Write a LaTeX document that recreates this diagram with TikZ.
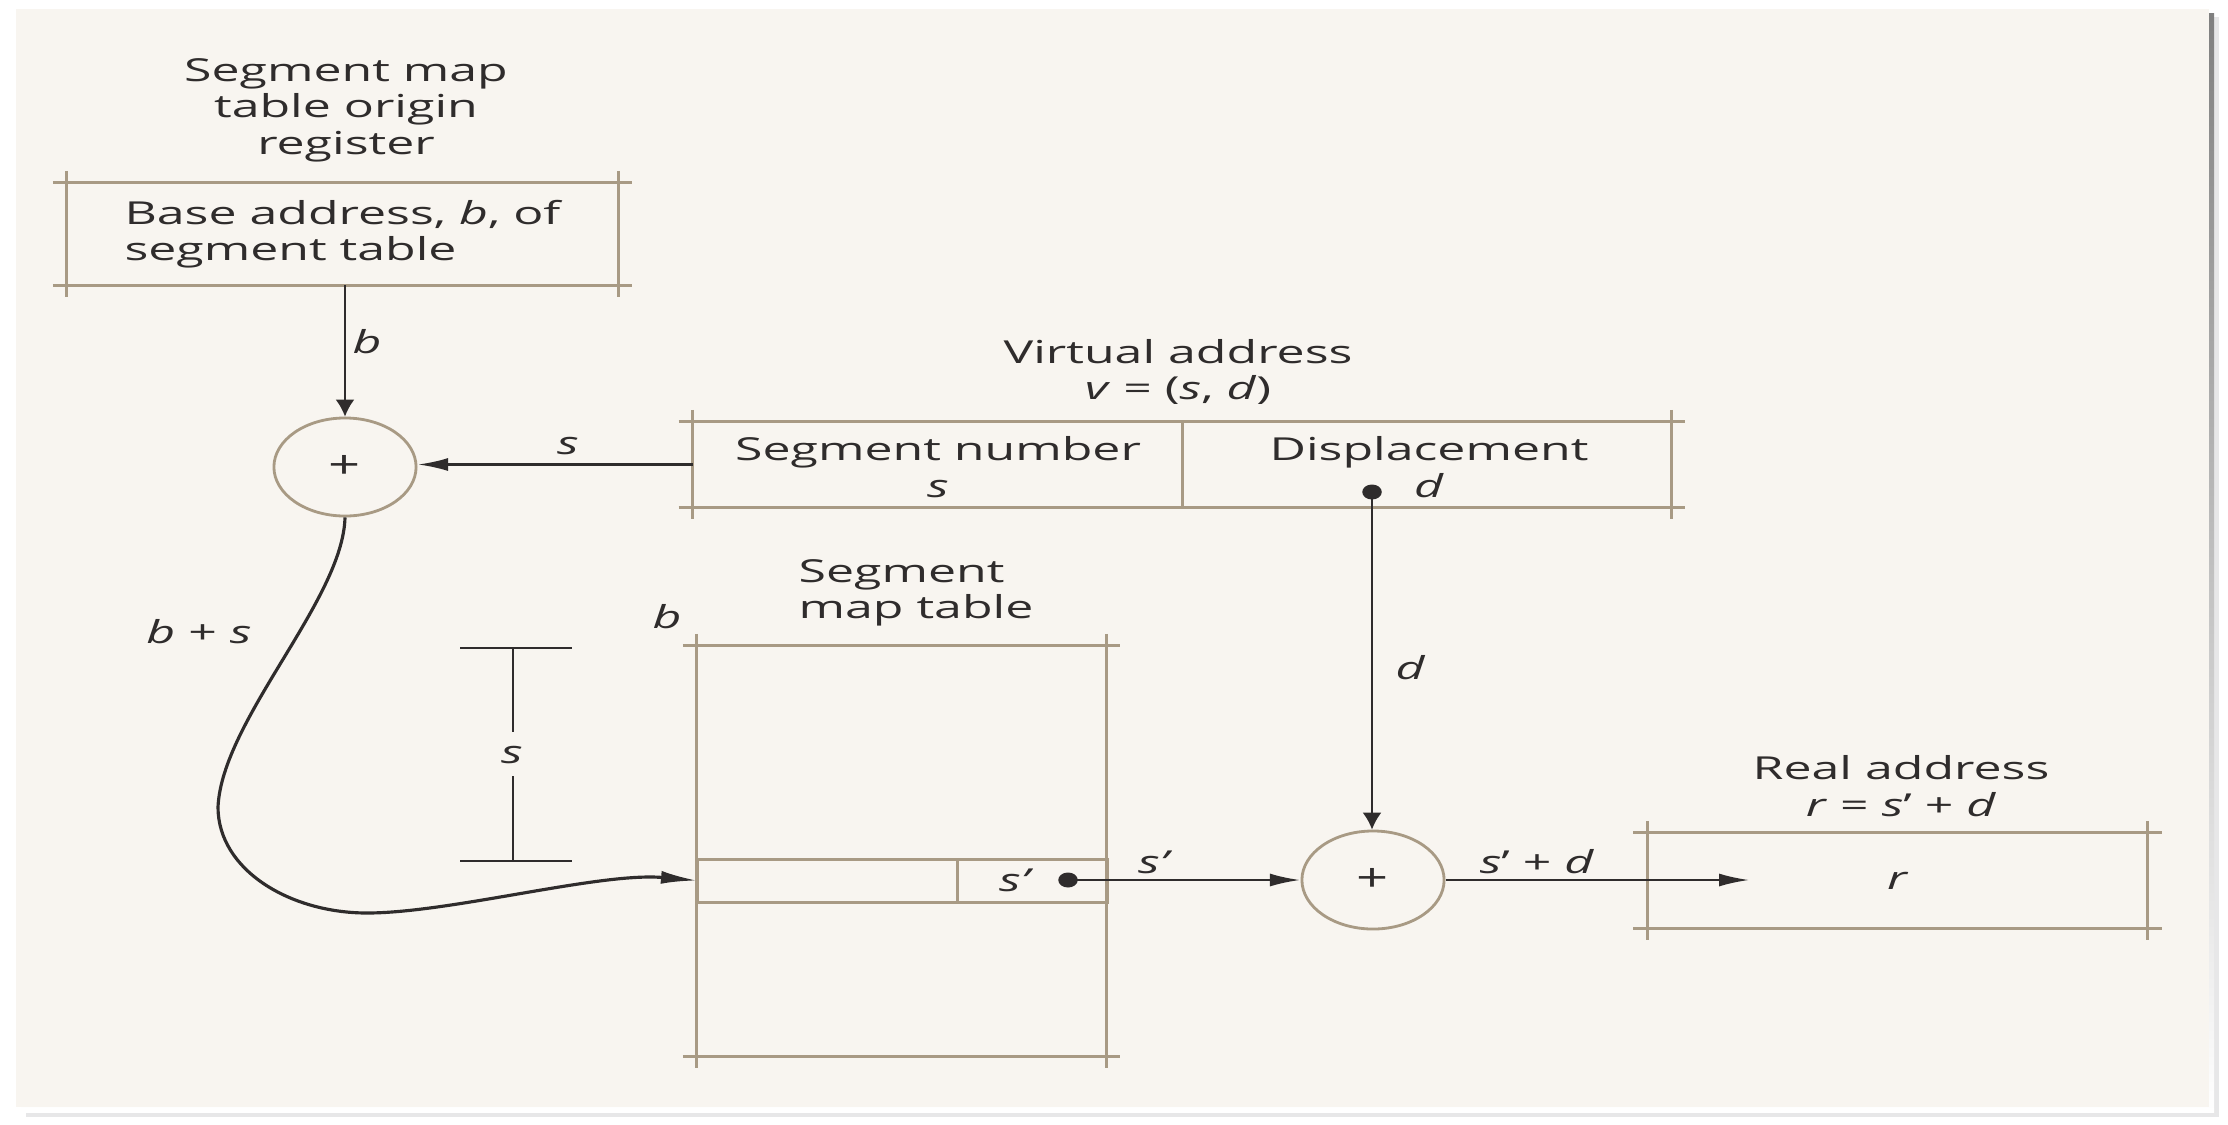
\documentclass[tikz,border=0pt]{standalone}
\usepackage{fontspec}
\setmainfont{Open Sans}
\usetikzlibrary{arrows.meta,positioning}
\definecolor{paper}{HTML}{F8F5F0}
\definecolor{frame}{HTML}{A89A84}
\definecolor{ink}{HTML}{2F2C2C}
\definecolor{shade}{HTML}{D6D6D9}
\tikzset{
  lbl/.style={font=\fontsize{9}{10.4}\selectfont, text=ink, xscale=1.58, inner sep=0pt, align=center},
  itvar/.style={lbl, font=\fontsize{9}{10.4}\selectfont\itshape},
  plainbox/.style={rectangle, inner sep=0pt, outer sep=0pt},
  adder/.style={circle, xscale=1.45, draw=frame, line width=0.8pt, minimum size=0.98cm,
    inner sep=0pt, font=\fontsize{11}{12}\selectfont, text=ink},
  frameline/.style={draw=frame, line width=0.85pt},
  harr/.style={-{Latex[length=0.3cm,width=0.13cm]}, draw=ink, line width=0.6pt},
  varr/.style={-{Latex[length=0.17cm,width=0.19cm]}, draw=ink, line width=0.6pt},
  dot/.style={circle, xscale=1.3, fill=ink, minimum size=0.15cm, inner sep=0pt},
}
\begin{document}
\begin{tikzpicture}[x=0.01cm, y=-0.01cm]

  % the sheet and its shadow
  \useasboundingbox[fill=white] (0,0) rectangle (2228,1124);
  \fill[shade!60] (26,17) rectangle (2219,1117);
  \fill[shade] (21,13) rectangle (2214,1112);
  \fill[paper] (16,9) rectangle (2209,1107);

  % the origin register, top left
  \node[lbl] (regtitle) at (346,110) {Segment map\\table origin\\register};
  \node[plainbox, minimum width=5.51cm, minimum height=1.02cm] (reg) at (342.5,234) {};
  \node[lbl, align=left] (regtext) at (reg) {Base address, \textit{b}, of\\segment table};

  % the two adders
  \node[adder] (add1) at (345,467) {+};
  \node[adder] (add2) at (1373,880) {+};

  % the virtual address
  \node[lbl] (vatitle) at (1178,372) {Virtual address\\\textit{v} = (\textit{s}, \textit{d})};
  \node[plainbox, minimum width=9.78cm, minimum height=0.85cm] (va) at (1182,464.5) {};
  \node[lbl] (segnum) at (938,467) {Segment number\\\textit{s}};
  \node[lbl] (displ) at (1429,467) {Displacement\\\textit{d}};
  \node[dot] (ddot) at (1372,492) {};

  % the segment map table
  \node[lbl, align=left] (smttitle) at (916,593) {Segment\\map table};
  \node[plainbox, minimum width=4.09cm, minimum height=4.10cm] (smt) at (901.5,851) {};
  \node[plainbox, draw=frame, line width=0.85pt, minimum width=2.6cm, minimum height=0.43cm,
    anchor=north west] (slot) at (697,859) {};
  \node[plainbox, draw=frame, line width=0.85pt, minimum width=1.5cm, minimum height=0.43cm,
    anchor=west] (cell) at (slot.east) {};
  \node[itvar] (sprime) at (1014,880) {s’};
  \node[dot] (sdot) at (1068,880) {};

  % the real address
  \node[lbl] (ratitle) at (1901,786) {Real address\\\textit{r} = \textit{s}’ + \textit{d}};
  \node[plainbox, minimum width=5.0cm, minimum height=0.95cm] (ra) at (1897.5,880.5) {};
  \node[itvar] (rtext) at (1897,881) {r};
  \coordinate (rtip) at (1749,880);

  % box outlines, run a little past the corners
  \foreach \b in {reg,va,smt,ra} {
    \draw[frameline] ([xshift=-0.14cm]\b.north west) -- ([xshift=0.14cm]\b.north east);
    \draw[frameline] ([xshift=-0.14cm]\b.south west) -- ([xshift=0.14cm]\b.south east);
    \draw[frameline] ([yshift=0.12cm]\b.north west) -- ([yshift=-0.12cm]\b.south west);
    \draw[frameline] ([yshift=0.12cm]\b.north east) -- ([yshift=-0.12cm]\b.south east);
  }
  \draw[frameline] (va.north) -- (va.south);

  % the s span beside the table
  \draw[ink, line width=0.7pt] (460,648) -- (572,648) (460,861) -- (572,861);
  \draw[ink, line width=0.7pt] (513,648) -- (513,732) (513,776) -- (513,861);
  \node[itvar] (barlbl) at (512,755) {s};

  % connectors
  \draw[varr] (reg.south -| add1.north) -- (add1.north);
  \draw[harr] (va.west) -- (va.west -| add1.east);
  \draw[ink, line width=0.9pt, -{Latex[length=0.36cm,width=0.13cm]}] (add1.south)
    .. controls (343,600) and (222,720) .. (218,807)
    .. controls (218,870) and (290,913) .. (367,913)
    .. controls (450,913) and (600,872) .. (slot.west);
  \draw[varr] (ddot.center) -- (ddot.center |- add2.north);
  \draw[harr] (sdot.center) -- (add2.west);
  \draw[harr] (add2.east) -- (rtip);

  % connector labels
  \node[itvar] (lb) at (367,342) {b};
  \node[itvar] (ls) at (568,446) {s};
  \node[lbl] (lbs) at (199,632) {\textit{b} + \textit{s}};
  \node[itvar] (lbtab) at (667,617) {b};
  \node[itvar] (lsp) at (1153,862) {s’};
  \node[itvar] (ld) at (1410,668) {d};
  \node[lbl] (lsd) at (1537,862) {\textit{s}’ + \textit{d}};
\end{tikzpicture}
\end{document}
